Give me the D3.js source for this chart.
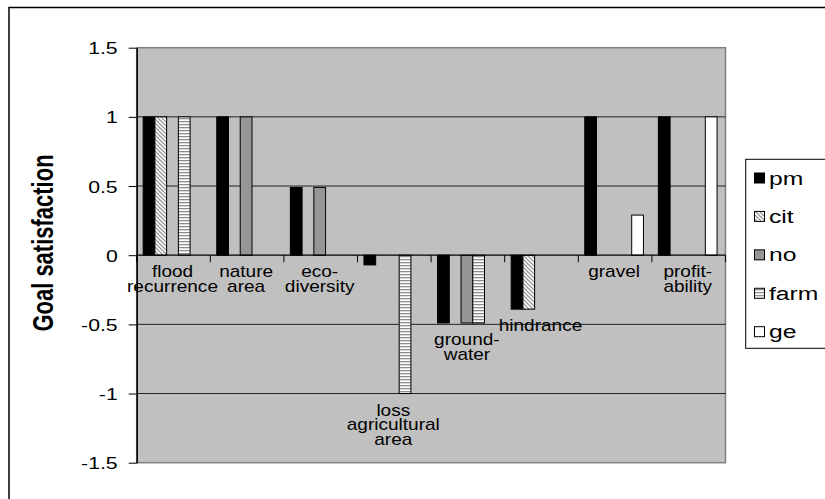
<!DOCTYPE html>
<html><head><meta charset="utf-8">
<script src="https://cdn.jsdelivr.net/npm/d3@7"></script>
<style>body{margin:0;background:#fff}svg{display:block}text{font-family:"Liberation Sans",Arial,sans-serif}</style>
</head><body><svg id="c" width="825" height="499"></svg>
<script>
const categories = ["flood recurrence","nature area","eco-diversity","loss agricultural area","groundwater","hindrance","gravel","profitability"];
const categoryLines = [["flood","recurrence"],["nature","area"],["eco-","diversity"],["loss","agricultural","area"],["ground-","water"],["hindrance"],["gravel"],["profit-","ability"]];
const seriesNames = ["pm","cit","no","farm","ge"];
const pm   = [1, 1, 0.49, -0.07, -0.49, -0.39, 1, 1];
const cit  = [1, 0, 0, 0, 0, -0.39, 0, 0];
const no   = [0, 1, 0.49, 0, -0.49, 0, 0, 0];
const farm = [1, 0, 0, -1, -0.49, 0, 0, 0];
const ge   = [0, 0, 0, 0, 0, 0, 0.29, 1];
const yTicks = [-1.5, -1, -0.5, 0, 0.5, 1, 1.5];
const yTitle = "Goal satisfaction";

const seriesValues = {pm, cit, no, farm, ge};
const svg = d3.select("#c");
const defs = svg.append("defs");
const pd = defs.append("pattern").attr("id","diag").attr("patternUnits","userSpaceOnUse").attr("width",4).attr("height",4);
pd.append("rect").attr("width",4).attr("height",4).attr("fill","#fff");
pd.append("path").attr("d","M-1,-1 L5,5 M-1,3 L1,5 M3,-1 L5,1").attr("stroke","#8c8c8c").attr("stroke-width",1.2);
const ph = defs.append("pattern").attr("id","horiz").attr("patternUnits","userSpaceOnUse").attr("width",4).attr("height",3);
ph.append("rect").attr("width",4).attr("height",3).attr("fill","#fff");
ph.append("rect").attr("y",1).attr("width",4).attr("height",1.3).attr("fill","#8c8c8c");
const fills = {pm:"#000", cit:"url(#diag)", no:"#969696", farm:"url(#horiz)", ge:"#fff"};

// outer border
svg.append("rect").attr("x",9).attr("y",7.5).attr("width",830).attr("height",510).attr("fill","none").attr("stroke","#000").attr("stroke-width",1.5);

const L = 136.7, R = 725.5, T = 47.7, B = 462.7;
const x0 = d3.scaleBand().domain(categories).range([L, R]);
const x1 = d3.scaleBand().domain(seriesNames).range([0, x0.bandwidth() - 2]).paddingOuter(0.55);
const y = d3.scaleLinear().domain([-1.5, 1.5]).range([B, T]);

svg.append("rect").attr("x",L).attr("y",T).attr("width",R-L).attr("height",B-T).attr("fill","#c0c0c0").attr("stroke","#808080").attr("stroke-width",1.5);

// gridlines
svg.append("g").selectAll("line").data(yTicks.filter(d => d !== 0 && Math.abs(d) !== 1.5)).join("line")
  .attr("x1",L).attr("x2",R).attr("y1",d=>y(d)).attr("y2",d=>y(d)).attr("stroke","#222").attr("stroke-width",1);

// bars
const g = svg.append("g");
seriesNames.forEach(s => {
  g.append("g").selectAll("rect").data(seriesValues[s].map((v,i)=>({v, c:categories[i]})).filter(d=>d.v!==0)).join("rect")
    .attr("x", d => x0(d.c) + x1(s)).attr("width", x1.bandwidth())
    .attr("y", d => y(Math.max(0,d.v))).attr("height", d => Math.abs(y(d.v) - y(0)))
    .attr("fill", fills[s]).attr("stroke","#000").attr("stroke-width",1);
});

// x axis at zero
const xa = svg.append("g").attr("transform",`translate(0,${y(0)})`);
xa.append("line").attr("x1",L).attr("x2",R).attr("stroke","#000").attr("stroke-width",1.2);
xa.selectAll("line.t").data(d3.range(categories.length+1)).join("line").attr("class","t")
  .attr("x1",i=>L + i*x0.step()).attr("x2",i=>L + i*x0.step()).attr("y1",0).attr("y2",7).attr("stroke","#000");

// category labels
categoryLines.forEach((lines,i) => {
  const vals = seriesNames.map(s => seriesValues[s][i]);
  const low = Math.min(0, d3.min(vals));
  const cx = x0(categories[i]) + x0.bandwidth()/2 - 1;
  const t = svg.append("text").attr("transform",`translate(${cx},${y(low)+22}) scale(1.12,1)`)
    .attr("text-anchor","middle").attr("font-size",17).attr("fill","#000");
  lines.forEach((ln,j)=> t.append("tspan").attr("x",0).attr("dy", j? 14.6 : 0).text(ln));
});

// y axis
const ya = svg.append("g").attr("transform",`translate(${L},0)`)
  .call(d3.axisLeft(y).tickValues(yTicks).tickSize(8).tickSizeOuter(0).tickPadding(0).tickFormat(d => String(d)));
ya.select(".domain").attr("stroke","#000").attr("stroke-width",1.5);
ya.selectAll(".tick line").attr("stroke","#000");
ya.selectAll(".tick text").attr("font-size",17).attr("fill","#000").attr("x",0)
  .attr("transform","translate(-19,0) scale(1.25,1)").attr("dy","0.36em")
  .style("font-family","Liberation Sans, Arial, sans-serif");

// y title
svg.append("text").attr("transform","translate(53,243) scale(1.3,1) rotate(-90)")
  .attr("text-anchor","middle").attr("font-size",22).attr("font-weight","bold").text(yTitle);

// legend
const lg = svg.append("g");
lg.append("rect").attr("x",745.7).attr("y",159.3).attr("width",100).attr("height",189).attr("fill","#fff").attr("stroke","#000").attr("stroke-width",1);
const ly = d3.scalePoint().domain(seriesNames).range([178, 331.7]);
seriesNames.forEach(s => {
  lg.append("rect").attr("x",754.5).attr("y",ly(s)-5).attr("width",10).attr("height",10).attr("fill",fills[s]).attr("stroke","#000");
  lg.append("text").attr("transform",`translate(769,${ly(s)+6.5}) scale(1.3,1)`).attr("font-size",19).text(s);
});
</script></body></html>
